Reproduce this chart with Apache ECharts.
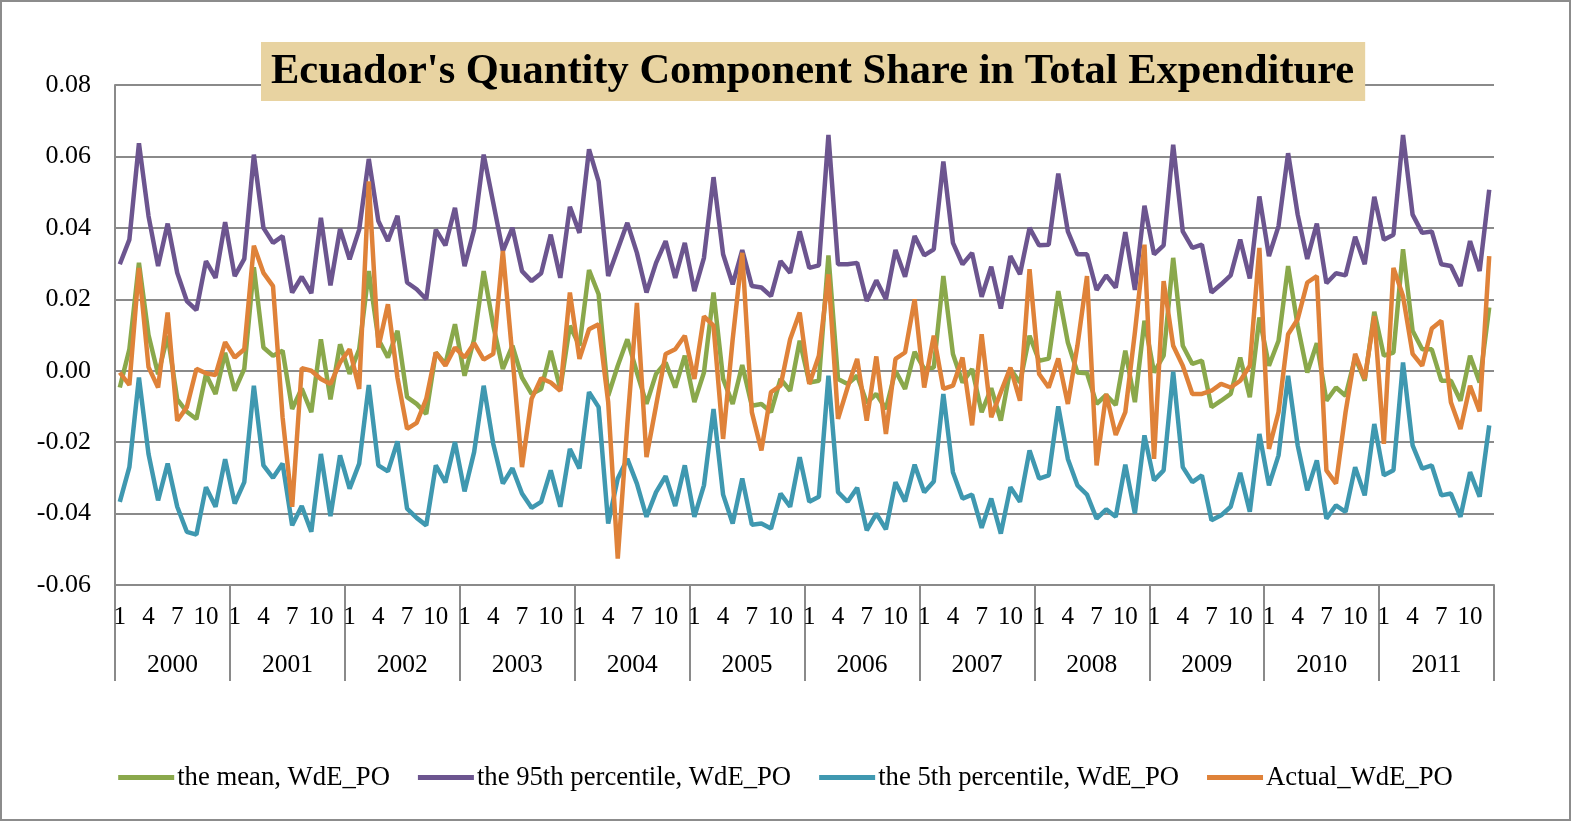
<!DOCTYPE html>
<html>
<head>
<meta charset="utf-8">
<script src="https://cdn.jsdelivr.net/npm/echarts/dist/echarts.min.js"></script>
<style>
  html, body { margin: 0; padding: 0; background: #fff; }
  #main { width: 1571px; height: 821px; }
</style>
</head>
<body>
<div id="main"></div>
<script>
// month labels and years of the two-level axis
var monthLabels = ['1', '2', '3', '4', '5', '6', '7', '8', '9', '10', '11', '12']
var years = ['2000', '2001', '2002', '2003', '2004', '2005', '2006', '2007', '2008', '2009', '2010', '2011']
var yTicks = [-0.06, -0.04, -0.02, 0.00, 0.02, 0.04, 0.06, 0.08]

// the mean, WdE_PO (one row per year)
var meanWdE = [
  -0.0047, 0.006, 0.0302, 0.010, -0.001, 0.0098, -0.008, -0.0115, -0.0135, -0.001, -0.0065, 0.005,
  -0.0056, 0.0005, 0.029, 0.0065, 0.0042, 0.0056, -0.0107, -0.005, -0.0116, 0.0088, -0.008, 0.0074,
  -0.0009, 0.006, 0.0279, 0.0088, 0.0037, 0.0112, -0.0074, -0.0093, -0.0121, 0.0051, 0.0019, 0.013,
  -0.0014, 0.0088, 0.0279, 0.0126, 0.0005, 0.007, -0.0019, -0.0065, -0.0051, 0.0056, -0.0051, 0.0126,
  0.007, 0.0282, 0.0214, -0.007, 0.0014, 0.0088, -0.0005, -0.0093, -0.0009, 0.0023, -0.0047, 0.0042,
  -0.0088, -0.0005, 0.0219, -0.0023, -0.0093, 0.0016, -0.0098, -0.0093, -0.0116, -0.0023, -0.0056, 0.0084,
  -0.0033, -0.0028, 0.0323, -0.0023, -0.0037, -0.0014, -0.009, -0.0065, -0.0107, 0, -0.0051, 0.0053,
  0.0005, 0.0009, 0.0265, 0.0047, -0.0033, 0.0005, -0.0116, -0.0049, -0.014, 0.0005, -0.0033, 0.0098,
  0.0028, 0.0034, 0.0223, 0.0079, -0.0005, -0.0007, -0.0093, -0.0068, -0.0096, 0.0056, -0.0088, 0.014,
  -0.0005, 0.0042, 0.0316, 0.007, 0.0019, 0.0028, -0.0102, -0.0084, -0.0065, 0.0037, -0.0074, 0.0149,
  0.0014, 0.0084, 0.0293, 0.0126, -0.0005, 0.0077, -0.0084, -0.0047, -0.007, 0.0037, -0.0028, 0.0165,
  0.0042, 0.0051, 0.034, 0.0112, 0.006, 0.006, -0.0028, -0.0028, -0.0084, 0.0042, -0.0033, 0.0177
]

// the 95th percentile, WdE_PO
var p95WdE = [
  0.0298, 0.0367, 0.0637, 0.0433, 0.0293, 0.0412, 0.0274, 0.0195, 0.017, 0.0307, 0.026, 0.0416,
  0.0265, 0.0313, 0.0605, 0.04, 0.0358, 0.0377, 0.0219, 0.0263, 0.0217, 0.0428, 0.0239, 0.0397,
  0.0312, 0.0395, 0.0593, 0.0419, 0.0363, 0.0434, 0.0247, 0.0228, 0.02, 0.0395, 0.0351, 0.0456,
  0.0293, 0.0395, 0.0605, 0.047, 0.0335, 0.04, 0.0279, 0.0251, 0.0273, 0.0381, 0.026, 0.0459,
  0.0386, 0.062, 0.053, 0.0265, 0.034, 0.0414, 0.033, 0.0219, 0.0302, 0.0363, 0.026, 0.0358,
  0.0223, 0.0316, 0.0542, 0.0326, 0.0242, 0.0338, 0.0237, 0.0233, 0.0209, 0.0307, 0.0274, 0.039,
  0.0288, 0.0295, 0.066, 0.0298, 0.0298, 0.0302, 0.0195, 0.0253, 0.02, 0.0338, 0.0263, 0.0377,
  0.0323, 0.034, 0.0586, 0.0358, 0.0298, 0.033, 0.0207, 0.0291, 0.0174, 0.0321, 0.027, 0.04,
  0.0351, 0.0353, 0.0552, 0.039, 0.0326, 0.0326, 0.0226, 0.0267, 0.0233, 0.0388, 0.0226, 0.0462,
  0.0326, 0.0351, 0.0633, 0.039, 0.0344, 0.0353, 0.0219, 0.0242, 0.0267, 0.0367, 0.0258, 0.0488,
  0.0321, 0.0405, 0.0609, 0.0437, 0.0313, 0.0412, 0.0245, 0.0273, 0.0267, 0.0375, 0.0298, 0.0487,
  0.0367, 0.0381, 0.066, 0.0437, 0.0386, 0.039, 0.0298, 0.0293, 0.0237, 0.0363, 0.0279, 0.0507
]

// the 5th percentile, WdE_PO
var p5WdE = [
  -0.0367, -0.027, -0.0019, -0.0233, -0.0363, -0.026, -0.0381, -0.0451, -0.0459, -0.0326, -0.0381, -0.0248,
  -0.0372, -0.0312, -0.0042, -0.0265, -0.03, -0.026, -0.0433, -0.0379, -0.0451, -0.0233, -0.0407, -0.0237,
  -0.033, -0.026, -0.004, -0.0265, -0.0282, -0.0198, -0.0386, -0.0412, -0.0433, -0.0265, -0.0313, -0.02,
  -0.0338, -0.0228, -0.0042, -0.0205, -0.0316, -0.0273, -0.0344, -0.0384, -0.0367, -0.0279, -0.0381, -0.0219,
  -0.0274, -0.006, -0.0102, -0.0428, -0.0302, -0.0247, -0.0316, -0.0409, -0.034, -0.0295, -0.0379, -0.0265,
  -0.0409, -0.0321, -0.0107, -0.0347, -0.0428, -0.0302, -0.0431, -0.0428, -0.0442, -0.0344, -0.0381, -0.0242,
  -0.0367, -0.0353, -0.0014, -0.034, -0.0367, -0.0328, -0.0447, -0.04, -0.0444, -0.0312, -0.0366, -0.0263,
  -0.034, -0.031, -0.0065, -0.0284, -0.0358, -0.0347, -0.044, -0.0358, -0.0456, -0.0326, -0.0367, -0.0223,
  -0.0302, -0.0293, -0.01, -0.0247, -0.0321, -0.0347, -0.0414, -0.0388, -0.0409, -0.0263, -0.04, -0.0181,
  -0.0307, -0.0279, -0.0003, -0.027, -0.0312, -0.0293, -0.0419, -0.0405, -0.0381, -0.0286, -0.0395, -0.0177,
  -0.0321, -0.0237, -0.0014, -0.0209, -0.0335, -0.0251, -0.0414, -0.0377, -0.0395, -0.027, -0.0349, -0.0149,
  -0.0293, -0.0279, 0.0023, -0.0209, -0.0274, -0.0265, -0.0349, -0.0344, -0.0409, -0.0284, -0.0353, -0.0153
]

// Actual_WdE_PO
var actualWdE = [
  -0.0005, -0.004, 0.0288, 0.001, -0.0047, 0.0163, -0.014, -0.0102, 0.0005, -0.0007, -0.0012, 0.008,
  0.0037, 0.006, 0.035, 0.0274, 0.0237, -0.013, -0.0381, 0.0007, 0, -0.0023, -0.0037, 0.0023,
  0.006, -0.0051, 0.053, 0.0065, 0.0186, -0.002, -0.0163, -0.0146, -0.0079, 0.0051, 0.0014, 0.0065,
  0.0037, 0.0077, 0.0031, 0.0047, 0.0335, 0.004, -0.027, -0.0079, -0.0021, -0.0033, -0.0056, 0.0219,
  0.0033, 0.0116, 0.013, -0.0088, -0.0526, -0.015, 0.019, -0.0242, -0.0098, 0.0047, 0.006, 0.0098,
  -0.0023, 0.0152, 0.0126, -0.0191, 0.0088, 0.033, -0.0116, -0.0223, -0.006, -0.0042, 0.0088, 0.0163,
  -0.0037, 0.0042, 0.027, -0.0135, -0.0047, 0.0033, -0.014, 0.004, -0.0177, 0.0033, 0.0051, 0.02,
  -0.0047, 0.0098, -0.0051, -0.0042, 0.0037, -0.0153, 0.0102, -0.013, -0.006, 0.0009, -0.0084, 0.0284,
  -0.0009, -0.0047, 0.0034, -0.0093, 0.007, 0.0265, -0.0265, -0.0065, -0.018, -0.0116, 0.0107, 0.0353,
  -0.0247, 0.0251, 0.007, 0.0014, -0.0065, -0.0065, -0.0056, -0.0037, -0.0047, -0.0028, 0.0014, 0.0344,
  -0.0219, -0.0116, 0.0102, 0.0144, 0.0247, 0.0265, -0.0279, -0.0316, -0.0116, 0.0047, -0.0023, 0.0153,
  -0.0205, 0.0288, 0.0209, 0.0047, 0.0014, 0.0118, 0.014, -0.0088, -0.0163, -0.0042, -0.0114, 0.0321
]

// category list: every month of every year
var categories = []
years.forEach(function (y) {
  monthLabels.forEach(function (m) { categories.push(y + '-' + m) })
})

var font = 'Liberation Serif'
var gray = '#8a8a8a'

var chart = echarts.init(document.getElementById('main'))

function lineSeries (name, data, color) {
  return {
    name: name,
    type: 'line',
    data: data,
    symbol: 'none',
    lineStyle: { width: 4.5, color: color },
    itemStyle: { color: color }
  }
}

chart.setOption({
  animation: false,
  backgroundColor: '#fff',
  title: {
    text: "Ecuador's Quantity Component Share in Total Expenditure",
    left: 261,
    top: 42,
    padding: [9, 11, 7, 10],
    backgroundColor: '#e8d3a1',
    textStyle: {
      fontFamily: font,
      fontWeight: 'bold',
      fontSize: 42.5,
      color: '#000'
    }
  },
  legend: {
    left: 'center',
    top: 759,
    icon: 'rect',
    itemWidth: 56,
    itemHeight: 5,
    itemGap: 28,
    textStyle: { fontFamily: font, fontSize: 26.7, color: '#000', padding: [0, 0, 0, -2] }
  },
  grid: { left: 115, right: 77, top: 85, bottom: 236 },
  xAxis: [
    {
      // months row
      type: 'category',
      position: 'bottom',
      data: categories,
      boundaryGap: true,
      axisLine: { show: true, onZero: false, lineStyle: { color: gray, width: 2 } },
      axisTick: { show: false },
      axisLabel: {
        interval: function (i) { return i % 3 === 0 },
        formatter: function (v) { return v.split('-')[1] },
        margin: 20,
        fontFamily: font,
        fontSize: 25,
        color: '#000'
      },
      splitLine: { show: false }
    },
    {
      // years row with separators
      type: 'category',
      position: 'bottom',
      data: years,
      boundaryGap: true,
      axisLine: { show: false, onZero: false },
      axisTick: { show: true, interval: 0, length: 96, lineStyle: { color: gray, width: 2 } },
      axisLabel: { margin: 67, fontFamily: font, fontSize: 25.5, color: '#000' },
      splitLine: { show: false }
    }
  ],
  yAxis: {
    type: 'value',
    min: yTicks[0],
    max: yTicks[yTicks.length - 1],
    interval: 0.02,
    axisLine: { show: true, lineStyle: { color: gray, width: 2 } },
    axisTick: { show: false },
    axisLabel: {
      margin: 24,
      fontFamily: font,
      fontSize: 26,
      color: '#000',
      formatter: function (v) { return v.toFixed(2) }
    },
    splitLine: { show: true, lineStyle: { color: gray, width: 2 } }
  },
  graphic: [
    {
      type: 'rect',
      shape: { x: 1, y: 1, width: 1569, height: 819 },
      style: { fill: 'none', stroke: '#8c8c8c', lineWidth: 2 },
      silent: true
    }
  ],
  series: [
    lineSeries('the mean, WdE_PO', meanWdE, '#8aa84b'),
    lineSeries('the 95th percentile, WdE_PO', p95WdE, '#6c558f'),
    lineSeries('the 5th percentile, WdE_PO', p5WdE, '#3f98b0'),
    lineSeries('Actual_WdE_PO', actualWdE, '#df8239')
  ]
})
</script>
</body>
</html>
